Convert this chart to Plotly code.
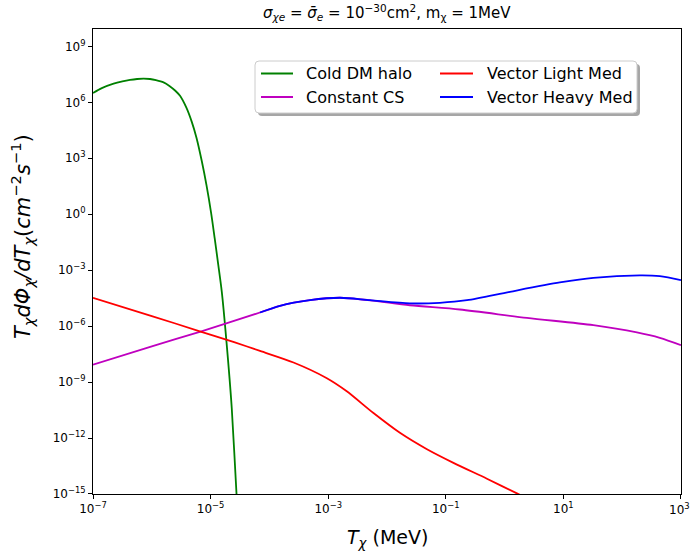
import numpy as np
import plotly.graph_objects as go

# ---- data: log10 of kinetic energy T_chi [MeV] and log10 of T dPhi/dT [cm^-2 s^-1] ----
halo_logT = [-7.0, -6.85, -6.65, -6.50, -6.37, -6.25, -6.14, -6.03, -5.93, -5.80, -5.70,
             -5.60, -5.52, -5.41, -5.32, -5.24, -5.15, -5.07, -4.99, -4.93, -4.87, -4.81,
             -4.73, -4.64, -4.56, -4.50]
halo_logF = [6.50, 6.76, 7.00, 7.12, 7.20, 7.25, 7.27, 7.25, 7.19, 7.07, 6.88,
             6.62, 6.35, 5.70, 4.95, 4.10, 2.85, 1.56, 0.05, -1.30, -2.70, -4.15,
             -6.83, -10.40, -14.95, -18.0]

const_logT = [-7.0, -6.0, -5.17, -4.16, -3.82, -3.31, -2.80, -2.29, -1.61, -0.76, 0.38,
              1.51, 2.25, 2.64, 3.0]
const_logF = [-8.07, -7.08, -6.29, -5.27, -4.91, -4.61, -4.48, -4.62, -4.88, -5.11, -5.56,
              -5.95, -6.34, -6.63, -7.02]

light_logT = [-7.0, -6.0, -5.17, -4.60, -4.16, -3.59, -3.03, -2.69, -2.23, -1.78, -1.32,
              -0.87, -0.30, 0.21, 0.80]
light_logF = [-4.48, -5.46, -6.29, -6.86, -7.33, -7.95, -8.78, -9.48, -10.66, -11.72, -12.60,
              -13.33, -14.18, -14.97, -15.85]

heavy_logT = [-4.16, -3.82, -3.31, -2.80, -2.29, -1.61, -1.10, -0.64, 0.09, 0.94, 1.51,
              2.30, 2.64, 3.0]
heavy_logF = [-5.27, -4.91, -4.61, -4.48, -4.61, -4.78, -4.75, -4.61, -4.16, -3.66, -3.41,
              -3.28, -3.32, -3.53]

x_tick_exps = [-7, -5, -3, -1, 1, 3]
y_tick_exps = [9, 6, 3, 0, -3, -6, -9, -12, -15]

series = [
    ("Cold DM halo", halo_logT, halo_logF, "#008000"),
    ("Constant CS", const_logT, const_logF, "#bf00bf"),
    ("Vector Light Med", light_logT, light_logF, "#ff0000"),
    ("Vector Heavy Med", heavy_logT, heavy_logF, "#0000ff"),
]

FONT = "DejaVu Sans"
TICK_FONT = dict(family=FONT, size=12, color="black")


def sup_label(e):
    s = str(e).replace("-", "\u2212")
    return f"10<sup>{s}</sup>"


fig = go.Figure()
for name, lx, ly, color in series:
    fig.add_trace(go.Scatter(
        x=10.0 ** np.array(lx), y=10.0 ** np.array(ly),
        mode="lines", name=name, showlegend=False,
        line=dict(color=color, width=1.8, shape="spline", smoothing=0.8),
        cliponaxis=True,
    ))

axis_common = dict(
    type="log", showgrid=False, zeroline=False,
    showline=True, linecolor="black", linewidth=1, mirror=True,
    ticks="outside", ticklen=4, tickwidth=1, tickcolor="black",
    tickfont=TICK_FONT,
)

# the label at the right end of the x axis is placed separately so it stays
# inside the page instead of being hidden past the edge
x_ticktext = [sup_label(e) for e in x_tick_exps]
x_ticktext[-1] = ""

fig.update_xaxes(
    **axis_common, range=[-7.0, 3.0005],
    tickmode="array", tickvals=[10.0 ** e for e in x_tick_exps],
    ticktext=x_ticktext,
)
fig.update_yaxes(
    **axis_common, range=[-15.0005, 9.93],
    tickmode="array", tickvals=[10.0 ** e for e in y_tick_exps],
    ticktext=[sup_label(e) for e in y_tick_exps],
)

# ---- legend drawn as a framed box with a drop shadow ----
W_PLOT, H_PLOT, L, T = 588.0, 465.0, 93.0, 29.0


def px(xp):
    return (xp - L) / W_PLOT


def py(yp):
    return (T + H_PLOT - yp) / H_PLOT


def rounded_rect(x0, y0, x1, y1, r=4):
    # pixel-space rectangle turned into a paper-space path with rounded corners
    rx, ry = r / W_PLOT, r / H_PLOT
    a, b, c, d = px(x0), py(y1), px(x1), py(y0)  # left, bottom, right, top
    return (f"M {a+rx},{b} L {c-rx},{b} Q {c},{b} {c},{b+ry} "
            f"L {c},{d-ry} Q {c},{d} {c-rx},{d} L {a+rx},{d} Q {a},{d} {a},{d-ry} "
            f"L {a},{b+ry} Q {a},{b} {a+rx},{b} Z")


box = (255, 61, 637, 113)
shapes = [
    dict(type="path", xref="paper", yref="paper", layer="above",
         path=rounded_rect(box[0] + 3, box[1] + 3, box[2] + 3, box[3] + 3),
         fillcolor="rgba(0,0,0,0.35)", line=dict(width=0)),
    dict(type="path", xref="paper", yref="paper", layer="above",
         path=rounded_rect(*box),
         fillcolor="white", line=dict(color="#cccccc", width=1)),
]

entries = [
    (series[0], 261, 293, 304, 73.5),
    (series[1], 261, 293, 304, 97.0),
    (series[2], 440, 473, 485, 73.5),
    (series[3], 440, 473, 485, 97.0),
]
annotations = []
for (name, _, _, color), lx0, lx1, tx, yy in entries:
    shapes.append(dict(type="line", xref="paper", yref="paper", layer="above",
                       x0=px(lx0), x1=px(lx1), y0=py(yy), y1=py(yy),
                       line=dict(color=color, width=2)))
    annotations.append(dict(xref="paper", yref="paper", x=px(tx), y=py(yy),
                            xanchor="left", yanchor="middle", showarrow=False,
                            text=name, font=dict(family=FONT, size=16, color="black")))

# right-end x tick label
annotations.append(dict(
    xref="paper", yref="paper", x=1.0, y=0.0, xanchor="center", yanchor="top",
    xshift=-2, yshift=-5, showarrow=False, font=TICK_FONT,
    text=sup_label(x_tick_exps[-1])))

# title and axis labels
annotations.append(dict(
    xref="paper", yref="paper", x=0.5, y=py(13), xanchor="center", yanchor="middle",
    showarrow=False, font=dict(family=FONT, size=15, color="black"),
    text="<i>σ</i><sub><i>χe</i></sub> = <i>σ̄</i><sub><i>e</i></sub> = "
         "10<sup>\u221230</sup>cm<sup>2</sup>, m<sub>χ</sub> = 1MeV"))
annotations.append(dict(
    xref="paper", yref="paper", x=0.5, y=py(538), xanchor="center", yanchor="middle",
    showarrow=False, font=dict(family=FONT, size=19, color="black"),
    text="<i>T</i><sub><i>χ</i></sub> (MeV)"))
annotations.append(dict(
    xref="paper", yref="paper", x=px(22), y=py(237), xanchor="center", yanchor="middle",
    showarrow=False, textangle=-90, font=dict(family=FONT, size=21, color="black"),
    text="<i>T</i><sub><i>χ</i></sub><i>dΦ</i><sub><i>χ</i></sub><i>/dT</i><sub><i>χ</i></sub>"
         "(<i>cm</i><sup>\u22122</sup><i>s</i><sup>\u22121</sup>)"))

fig.update_layout(
    width=691, height=552,
    margin=dict(l=93, r=10, t=29, b=58),
    paper_bgcolor="white", plot_bgcolor="white",
    font=dict(family=FONT, color="black"),
    showlegend=False,
    shapes=shapes, annotations=annotations,
)

fig.write_html("out.html")
